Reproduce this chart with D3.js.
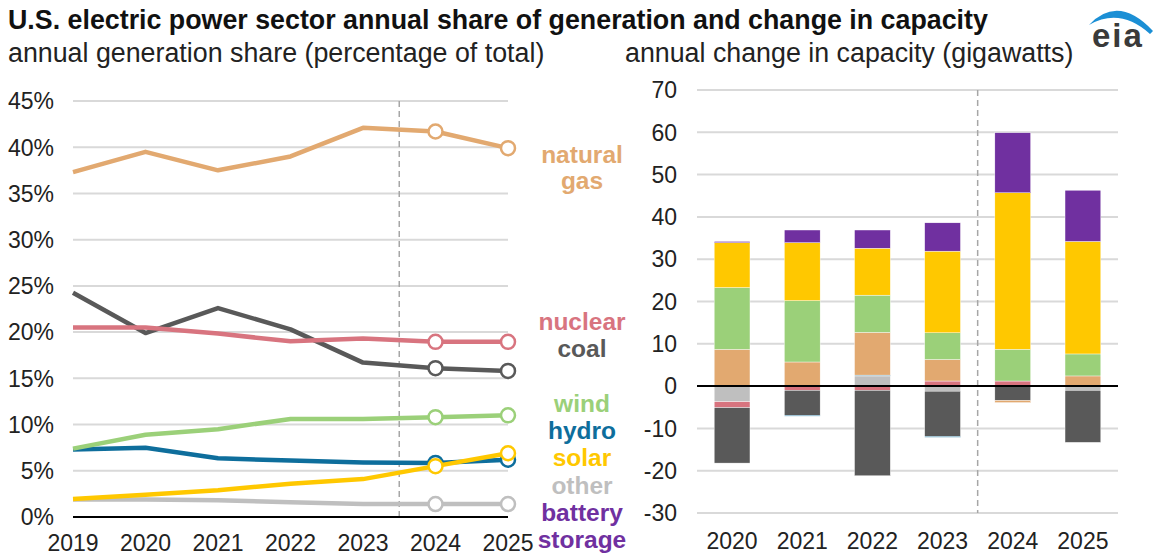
<!DOCTYPE html>
<meta charset="utf-8">
<script src="https://d3js.org/d3.v7.min.js"></script>
<style>
  body { margin: 0; background: #fff; }
  text { font-family: "Liberation Sans", Arial, sans-serif; }
</style>
<body>
<div id="chart"></div>
<script>

// ---- data ----
var years = [2019, 2020, 2021, 2022, 2023, 2024, 2025]
var capYears = [2020, 2021, 2022, 2023, 2024, 2025]

// generation share, percent of total
var naturalGas = [37.3, 39.5, 37.5, 39.0, 42.1, 41.7, 39.9]
var nuclear    = [20.5, 20.5, 19.85, 19.0, 19.3, 18.95, 18.95]
var coal       = [24.25, 19.9, 22.6, 20.3, 16.7, 16.1, 15.8]
var wind       = [7.4, 8.9, 9.5, 10.6, 10.6, 10.8, 11.0]
var hydro      = [7.3, 7.5, 6.35, 6.1, 5.9, 5.85, 6.2]
var solar      = [1.95, 2.4, 2.9, 3.6, 4.1, 5.5, 6.9]
var other      = [1.9, 1.9, 1.8, 1.6, 1.4, 1.4, 1.4]

// annual change in capacity, gigawatts (2020-2025)
var capOther   = [-3.7, 0, 2.4, -1.2, 0, -1.0]
var capNuclear = [-1.4, -1.0, -1.0, 1.2, 1.2, 0]
var capCoal    = [-13.1, -5.9, -20.2, -10.7, -3.4, -12.3]
var capHydro   = [0, -0.2, 0.2, -0.2, 0, 0]
var capGas     = [8.7, 5.7, 10.1, 5.1, -0.5, 2.4]
var capWind    = [14.6, 14.5, 8.8, 6.3, 7.5, 5.2]
var capSolar   = [10.6, 13.7, 11.1, 19.3, 37.0, 26.6]
var capBattery = [0.3, 3.0, 4.3, 6.7, 14.2, 12.1]

var shareTicks = [0, 5, 10, 15, 20, 25, 30, 35, 40, 45]
var capTicks = [-30, -20, -10, 0, 10, 20, 30, 40, 50, 60, 70]

var colors = {
  gas: "#e2a970", nuclear: "#d8747f", coal: "#595959", wind: "#9bd079",
  hydro: "#0e6e9c", solar: "#ffc800", other: "#bfbfbf", battery: "#7030a0"
}

var W = 1155, H = 556
var svg = d3.select("#chart").append("svg")
  .attr("width", W).attr("height", H)

// ---- titles ----
svg.append("text").attr("x", 8).attr("y", 29)
  .style("font-size", "26.8px").style("font-weight", "bold").style("fill", "#111")
  .text("U.S. electric power sector annual share of generation and change in capacity")
svg.append("text").attr("x", 8).attr("y", 62)
  .style("font-size", "26.8px").style("fill", "#222")
  .text("annual generation share (percentage of total)")
svg.append("text").attr("x", 625).attr("y", 62)
  .style("font-size", "26.8px").style("fill", "#222")
  .text("annual change in capacity (gigawatts)")

// eia logo
svg.append("path")
  .attr("d", "M1089,25 Q1118,-6 1153,31 L1150,34 Q1120,7 1089,25 Z")
  .style("fill", "#1b8fd5")
svg.append("text").attr("x", 1092).attr("y", 47)
  .style("font-size", "33px").style("font-weight", "bold").style("fill", "#3a3a3a")
  .style("letter-spacing", "2px")
  .text("eia")

// ---- left: generation share lines ----
var x = d3.scalePoint().domain(years).range([73, 508])
var y = d3.scaleLinear().domain([0, 45]).range([517, 101])

svg.selectAll(".gridL").data(shareTicks.filter(function(d){ return d > 0 }))
  .enter().append("line")
    .attr("x1", x(2019)).attr("x2", x(2025))
    .attr("y1", function(d){ return y(d) }).attr("y2", function(d){ return y(d) })
    .style("stroke", "#d9d9d9").style("stroke-width", 2)

svg.selectAll(".tickL").data(shareTicks)
  .enter().append("text")
    .attr("x", 54).attr("y", function(d){ return y(d) }).attr("dy", "0.36em")
    .attr("text-anchor", "end")
    .style("font-size", "23px").style("fill", "#222")
    .text(function(d){ return d + "%" })

svg.selectAll(".yearL").data(years)
  .enter().append("text")
    .attr("x", function(d){ return x(d) }).attr("y", 551)
    .attr("text-anchor", "middle")
    .style("font-size", "23px").style("fill", "#222")
    .text(function(d){ return d })

svg.append("line")
  .attr("x1", (x(2023) + x(2024)) / 2).attr("x2", (x(2023) + x(2024)) / 2)
  .attr("y1", y(45)).attr("y2", y(0))
  .style("stroke", "#a6a6a6").style("stroke-width", 1.5).style("stroke-dasharray", "6,4")

svg.append("line")
  .attr("x1", x(2019)).attr("x2", x(2025)).attr("y1", y(0)).attr("y2", y(0))
  .style("stroke", "#000").style("stroke-width", 2)

var series = [
  {key: "other", values: other},
  {key: "hydro", values: hydro},
  {key: "solar", values: solar},
  {key: "wind", values: wind},
  {key: "coal", values: coal},
  {key: "nuclear", values: nuclear},
  {key: "gas", values: naturalGas}
]

var line = d3.line()
  .x(function(d, i){ return x(years[i]) })
  .y(function(d){ return y(d) })

series.forEach(function(s) {
  svg.append("path").datum(s.values)
    .attr("d", line)
    .style("fill", "none").style("stroke", colors[s.key])
    .style("stroke-width", 4.5).style("stroke-linejoin", "round")
  svg.selectAll(".pt-" + s.key).data(s.values.slice(5))
    .enter().append("circle")
      .attr("cx", function(d, i){ return x(years[5 + i]) })
      .attr("cy", function(d){ return y(d) })
      .attr("r", 7)
      .style("fill", "#fff").style("stroke", colors[s.key]).style("stroke-width", 2.5)
})

// labels
var labels = [
  {t: "natural", y: 163, c: colors.gas},
  {t: "gas", y: 189, c: colors.gas},
  {t: "nuclear", y: 330, c: colors.nuclear},
  {t: "coal", y: 357, c: colors.coal},
  {t: "wind", y: 412, c: colors.wind},
  {t: "hydro", y: 439, c: colors.hydro},
  {t: "solar", y: 466, c: colors.solar},
  {t: "other", y: 494, c: colors.other},
  {t: "battery", y: 521, c: colors.battery},
  {t: "storage", y: 548, c: colors.battery}
]
svg.selectAll(".lab").data(labels)
  .enter().append("text")
    .attr("x", 582).attr("y", function(d){ return d.y })
    .attr("text-anchor", "middle")
    .style("font-size", "24.5px").style("font-weight", "bold")
    .style("fill", function(d){ return d.c })
    .text(function(d){ return d.t })

// ---- right: capacity change stacked bars ----
var keys = ["other", "nuclear", "coal", "hydro", "gas", "wind", "solar", "battery"]
var capRows = capYears.map(function(yr, i) {
  return {year: yr, other: capOther[i], nuclear: capNuclear[i], coal: capCoal[i],
    hydro: capHydro[i], gas: capGas[i], wind: capWind[i], solar: capSolar[i],
    battery: capBattery[i]}
})

var xb = d3.scaleBand().domain(capYears).range([697, 1118])
  .paddingInner(0.49).paddingOuter(0.245)
var yb = d3.scaleLinear().domain([-30, 70]).range([513, 90])

svg.selectAll(".gridR").data(capTicks.filter(function(d){ return d !== 0 }))
  .enter().append("line")
    .attr("x1", 697).attr("x2", 1118)
    .attr("y1", function(d){ return yb(d) }).attr("y2", function(d){ return yb(d) })
    .style("stroke", "#d9d9d9").style("stroke-width", 2)

svg.selectAll(".tickR").data(capTicks)
  .enter().append("text")
    .attr("x", 677).attr("y", function(d){ return yb(d) }).attr("dy", "0.36em")
    .attr("text-anchor", "end")
    .style("font-size", "23px").style("fill", "#222")
    .text(function(d){ return d })

svg.selectAll(".yearR").data(capYears)
  .enter().append("text")
    .attr("x", function(d){ return xb(d) + xb.bandwidth() / 2 }).attr("y", 549)
    .attr("text-anchor", "middle")
    .style("font-size", "23px").style("fill", "#222")
    .text(function(d){ return d })

var stacked = d3.stack().keys(keys).offset(d3.stackOffsetDiverging)(capRows)

svg.selectAll(".layer").data(stacked)
  .enter().append("g")
    .style("fill", function(d){ return colors[d.key] })
  .selectAll("rect").data(function(d){ return d })
  .enter().append("rect")
    .attr("x", function(d){ return xb(d.data.year) })
    .attr("width", xb.bandwidth())
    .attr("y", function(d){ return yb(Math.max(d[0], d[1])) })
    .attr("height", function(d){ return Math.abs(yb(d[0]) - yb(d[1])) })
    .style("stroke", "#fff").style("stroke-width", 0.4)

var midR = (xb(2023) + xb.bandwidth() + xb(2024)) / 2
svg.append("line")
  .attr("x1", midR).attr("x2", midR).attr("y1", yb(70)).attr("y2", yb(-30))
  .style("stroke", "#a6a6a6").style("stroke-width", 1.5).style("stroke-dasharray", "6,4")

svg.append("line")
  .attr("x1", 697).attr("x2", 1118).attr("y1", yb(0)).attr("y2", yb(0))
  .style("stroke", "#000").style("stroke-width", 2)

</script>
</body>
